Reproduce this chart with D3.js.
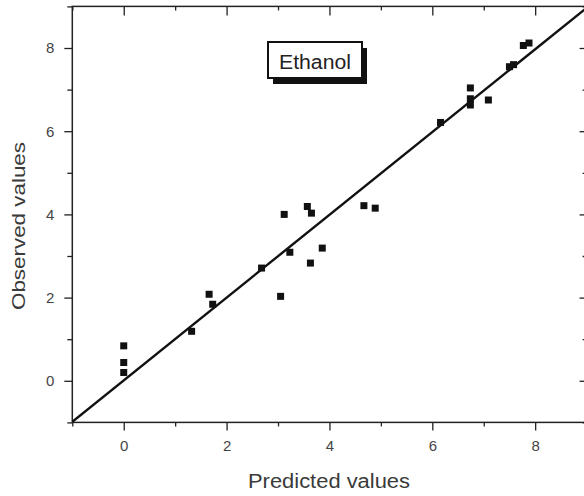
<!DOCTYPE html>
<html lang="en">
<head>
  <meta charset="UTF-8" />
  <title>Ethanol - observed vs predicted</title>
  <style>
    body { margin: 0; background: #fff; }
    svg { display: block; font-family: "Liberation Sans", Arial, sans-serif; }
    .axis path, .axis line { stroke: #222; }
    .axis text { fill: #444; font-size: 15px; }
  </style>
</head>
<body>
  <div class="chart"></div>

  <script src="https://d3js.org/d3.v7.min.js"></script>
  <script>
    // values
    const predicted = [0, 0, 0, 1.32, 1.66, 1.73, 2.68, 3.05, 3.12, 3.23, 3.57, 3.65, 3.63,
      3.86, 4.67, 4.89, 6.16, 6.74, 6.74, 6.74, 7.09, 7.5, 7.58, 7.77, 7.88];
    const observed = [0.84, 0.44, 0.20, 1.19, 2.08, 1.84, 2.71, 2.03, 4.0, 3.09, 4.19, 4.03, 2.83,
      3.19, 4.21, 4.15, 6.21, 7.04, 6.78, 6.63, 6.75, 7.55, 7.6, 8.06, 8.12];
    const majorTicks = [0, 2, 4, 6, 8];
    const minorTicks = [-1, 1, 3, 5, 7, 9];
    const fitSlope = 0.995;
    const fitIntercept = 0.01;
    const label = 'Ethanol';

    const width = 584;
    const height = 496;

    const x = d3.scaleLinear().domain([-1, 9]).range([72.3, 586.6]);
    const y = d3.scaleLinear().domain([-1, 9]).range([422.4, 6.4]);

    const svg = d3.select('.chart')
      .append('svg')
      .attr('width', width)
      .attr('height', height);

    // frame
    svg.append('rect')
      .attr('x', x(-1)).attr('y', y(9))
      .attr('width', x(9) - x(-1)).attr('height', y(-1) - y(9))
      .attr('fill', 'none').attr('stroke', '#222').attr('stroke-width', 1.5);

    // axes: labelled major ticks and short minor ticks
    function addAxis(axisFn, scale, transform, major, minor, labels) {
      const g = svg.append('g').attr('class', 'axis').attr('transform', transform);
      g.call(axisFn(scale).tickValues(minorTicks).tickSize(minor).tickFormat(''))
        .call(s => s.select('.domain').remove());
      const m = svg.append('g').attr('class', 'axis').attr('transform', transform);
      m.call(axisFn(scale).tickValues(majorTicks).tickSize(major).tickPadding(10)
        .tickFormat(labels ? d3.format('d') : ''))
        .call(s => s.select('.domain').remove());
      g.selectAll('line').attr('stroke-width', 1.3);
      m.selectAll('line').attr('stroke-width', 1.3);
      return m;
    }

    addAxis(d3.axisBottom, x, `translate(0,${y(-1)})`, 8, 4, true);
    addAxis(d3.axisTop, x, `translate(0,${y(9)})`, -9, -4, false);
    addAxis(d3.axisLeft, y, `translate(${x(-1)},0)`, 8, 5, true);
    addAxis(d3.axisRight, y, `translate(${x(9)},0)`, -7, -4, false);

    // axis titles
    svg.append('text')
      .attr('x', 329).attr('y', 488)
      .attr('text-anchor', 'middle')
      .attr('font-size', 20)
      .attr('fill', '#3a3a3a')
      .attr('textLength', 162).attr('lengthAdjust', 'spacingAndGlyphs')
      .text('Predicted values');

    svg.append('text')
      .attr('transform', 'translate(25,226) rotate(-90)')
      .attr('text-anchor', 'middle')
      .attr('font-size', 18)
      .attr('fill', '#3a3a3a')
      .attr('textLength', 168).attr('lengthAdjust', 'spacingAndGlyphs')
      .text('Observed values');

    // fit line, clipped to the frame
    svg.append('clipPath').attr('id', 'plot')
      .append('rect')
      .attr('x', x(-1)).attr('y', y(9))
      .attr('width', x(9) - x(-1)).attr('height', y(-1) - y(9));

    svg.append('line')
      .attr('clip-path', 'url(#plot)')
      .attr('x1', x(-1)).attr('y1', y(fitSlope * -1 + fitIntercept))
      .attr('x2', x(9)).attr('y2', y(fitSlope * 9 + fitIntercept))
      .attr('stroke', '#111').attr('stroke-width', 2.4);

    // points
    const size = 7;
    svg.append('g')
      .selectAll('rect')
      .data(predicted.map((p, i) => [p, observed[i]]))
      .enter()
      .append('rect')
      .attr('x', d => x(d[0]) - size / 2)
      .attr('y', d => y(d[1]) - size / 2)
      .attr('width', size).attr('height', size)
      .attr('fill', '#111');

    // label box with drop shadow
    const box = { x: 268, y: 42, w: 94, h: 36, off: 5 };
    svg.append('rect')
      .attr('x', box.x + box.off).attr('y', box.y + box.off + 1)
      .attr('width', box.w).attr('height', box.h)
      .attr('fill', '#111');
    svg.append('rect')
      .attr('x', box.x).attr('y', box.y)
      .attr('width', box.w).attr('height', box.h)
      .attr('fill', '#fff').attr('stroke', '#111').attr('stroke-width', 2);
    svg.append('text')
      .attr('x', box.x + box.w / 2).attr('y', 69)
      .attr('text-anchor', 'middle')
      .attr('font-size', 20)
      .attr('fill', '#222')
      .attr('textLength', 72).attr('lengthAdjust', 'spacingAndGlyphs')
      .text(label);
  </script>
</body>
</html>
